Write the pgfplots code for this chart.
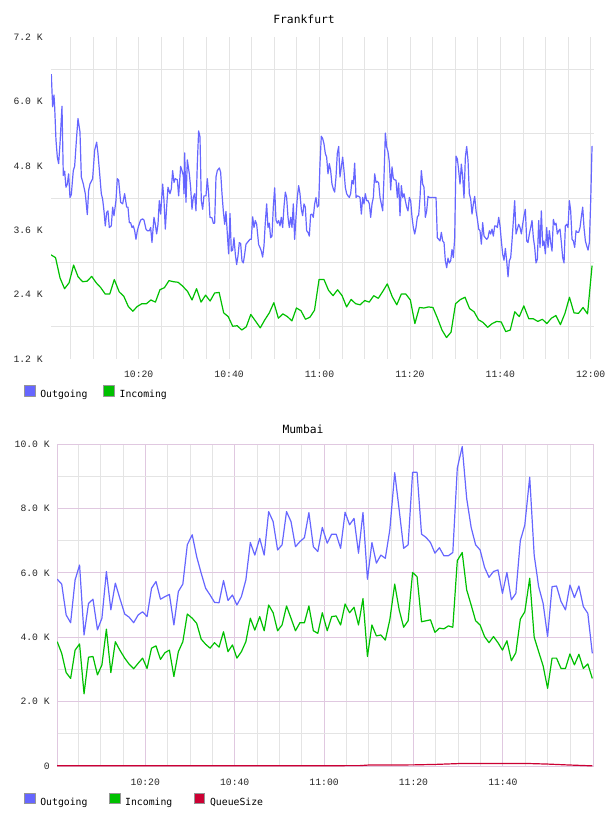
\documentclass[border=0pt]{standalone}
\usepackage{pgfplots}
\pgfplotsset{compat=1.18}
\usepackage{fontspec}
\newfontfamily\monofont{DejaVu Sans Mono}
\newfontfamily\tickfont{Liberation Mono}
\definecolor{outblue}{RGB}{102,102,255}
\definecolor{ingreen}{RGB}{0,192,0}
\definecolor{queuered}{RGB}{204,0,51}
\definecolor{gridgray}{RGB}{228,228,228}
\definecolor{gridpink}{RGB}{224,200,224}
\definecolor{legborder}{RGB}{150,150,150}
\pgfplotsset{
  base/.style={scale only axis, clip=true, tick style={draw=none},
    tick label style={font=\tickfont\fontsize{7.3}{8}\selectfont, text=black!85},
    legend style={draw=none, fill=none, inner sep=0pt, outer sep=0pt, legend columns=-1,
      font=\monofont\fontsize{7.35}{8}\selectfont,
      /tikz/every odd column/.style={column sep=3.5pt}, nodes={inner sep=0pt}},
    legend cell align=left,
    title style={font=\monofont\fontsize{8.5}{10}\selectfont, inner sep=0pt, anchor=base},
    every axis plot/.append style={line width=0.9pt, line join=round, mark=none},
  },
  sq/.style={legend image code/.code={\draw[draw=legborder, fill=#1, line width=0.75pt] (0pt,-0.9pt) rectangle (8pt,7.1pt);}},
}
\begin{document}
\begin{tikzpicture}
\useasboundingbox (0,0) rectangle (456pt,-612pt);
% ---------------- Frankfurt ----------------
\begin{axis}[base, at={(38.25pt,-27.75pt)}, anchor=north west,
  width=407.25pt, height=241.5pt,
  axis line style={draw=none},
  xmin=0.6, xmax=120.73, ymin=1.2, ymax=7.2,
  xtick={20,40,60,80,100,120}, xticklabels={10:20,10:40,11:00,11:20,11:40,12:00},
  minor xtick={5,10,...,120}, xminorgrids,
  ytick={1.2,2.4,3.6,4.8,6.0,7.2}, yticklabels={1.2 K,2.4 K,3.6 K,4.8 K,6.0 K,7.2 K},
  minor ytick={1.8,3.0,4.2,5.4,6.6}, yminorgrids,
  minor grid style={gridgray, line width=0.6pt},
  xticklabel style={anchor=base, yshift=-13.5pt},
  yticklabel style={anchor=east, xshift=-6pt, inner sep=0pt},
  title={Frankfurt}, title style={at={(0.466,1)}, yshift=3.75pt},
  legend style={at={(-0.0497,-0.104)}, anchor=west, /tikz/every even column/.style={column sep=11.85pt}},
]
\addplot[outblue, sq=outblue] coordinates {
(0.67,6.51) (0.96,5.90) (1.26,6.12) (1.41,5.90) (1.70,5.28) (2.00,4.96) (2.29,4.84) (2.59,5.21) (3.03,5.91) (3.32,4.62) (3.62,4.70) (3.91,4.40) (4.21,4.46) (4.50,4.65) (4.80,4.21) (5.09,4.26) (5.53,4.71) (5.83,4.79) (6.27,5.34) (6.57,5.68) (7.01,5.43) (7.31,4.59) (7.75,4.46) (8.19,4.28) (8.63,3.89) (8.93,4.34) (9.22,4.46) (9.81,4.56) (10.26,5.09) (10.70,5.24) (10.99,5.03) (11.43,4.59) (11.73,4.28) (12.02,4.18) (12.32,3.96) (12.61,3.68) (12.91,3.93) (13.20,3.96) (13.50,3.65) (13.94,3.68) (14.24,4.03) (14.53,3.87) (14.97,4.15) (15.27,4.56) (15.57,4.53) (16.01,4.12) (16.45,4.09) (16.89,4.28) (17.34,4.03) (17.63,4.03) (17.93,3.74) (18.22,3.74) (18.52,3.65) (18.81,3.68) (19.11,3.59) (19.40,3.43) (19.70,3.59) (19.99,3.68) (20.43,3.79) (20.87,3.81) (21.17,3.79) (21.61,3.62) (21.91,3.59) (22.35,3.59) (22.65,3.65) (22.94,3.37) (23.38,3.84) (23.68,3.71) (23.97,3.53) (24.27,3.71) (24.56,4.15) (24.86,3.90) (25.30,4.46) (25.60,4.15) (25.89,3.62) (26.18,4.03) (26.48,4.40) (26.92,4.28) (27.22,4.37) (27.51,4.71) (27.81,4.49) (28.10,4.56) (28.54,4.54) (28.84,4.24) (29.28,4.79) (29.58,4.71) (29.87,4.62) (30.02,4.28) (30.17,5.04) (30.46,4.12) (30.76,4.91)
(31.20,4.65) (31.49,4.40) (31.79,3.99) (32.08,4.21) (32.38,4.28) (32.67,3.96) (32.97,4.84) (33.26,5.45) (33.56,5.34) (33.85,4.15) (34.15,3.99) (34.44,4.24) (34.89,4.24) (35.18,4.56) (35.48,4.28) (35.77,3.84) (36.21,3.83) (36.51,3.73) (36.80,3.73) (37.10,4.59) (37.39,4.71) (37.84,4.76) (38.13,4.68) (38.43,4.28) (38.72,3.96) (39.02,3.71) (39.31,3.95) (39.61,3.53) (39.90,3.16) (40.20,3.91) (40.49,3.21) (40.79,3.23) (41.08,3.46) (41.38,3.15) (41.67,2.96) (41.97,3.12) (42.26,3.37) (42.56,3.35) (42.85,3.03) (43.15,2.99) (43.44,3.15) (43.74,3.34) (44.03,3.37) (44.33,3.40) (44.62,3.43) (44.92,3.43) (45.21,3.85) (45.51,3.65) (45.80,3.78) (46.10,3.71) (46.54,3.33) (46.83,3.28) (47.13,3.21) (47.42,3.10) (47.72,3.31) (48.01,3.74) (48.31,4.09) (48.60,3.65) (48.90,3.73) (49.19,3.46) (49.49,3.49) (49.78,4.03) (50.08,4.39) (50.37,3.79) (50.67,3.73) (50.96,3.78) (51.26,3.68) (51.55,3.84) (51.85,3.65) (52.14,4.03) (52.44,4.31) (52.73,4.21) (53.03,3.84) (53.32,3.65) (53.62,3.84) (53.91,3.65) (54.21,4.09) (54.50,3.43) (54.80,3.84) (55.09,4.21) (55.39,4.43) (55.68,4.28) (55.98,3.99) (56.27,3.87) (56.57,4.09) (56.86,4.03) (57.16,3.59) (57.45,3.56) (57.75,3.49) (58.04,3.89) (58.34,3.90) (58.63,3.84) (58.93,4.09) (59.22,4.21) (59.52,4.03) (59.81,4.06) (60.11,4.84) (60.40,5.35) (60.70,5.31) (60.99,5.21)
(61.29,5.03) (61.58,4.96) (61.88,4.65) (62.17,4.84) (62.47,4.71) (62.76,4.46) (63.06,4.37) (63.35,4.31) (63.65,4.59) (63.94,5.03) (64.24,5.16) (64.53,4.59) (64.83,4.78) (65.12,4.96) (65.42,4.71) (65.71,4.40) (66.01,4.28) (66.30,4.24) (66.60,4.21) (66.89,4.28) (67.19,4.53) (67.49,4.46) (67.78,4.85) (68.08,4.21) (68.37,4.24) (68.67,4.23) (68.96,4.21) (69.26,3.90) (69.55,4.21) (69.85,4.09) (70.14,4.28) (70.44,4.15) (70.73,4.15) (71.03,4.09) (71.32,3.84) (71.62,4.09) (71.91,4.21) (72.21,4.65) (72.50,4.49) (72.80,4.51) (73.09,4.48) (73.39,4.21) (73.68,4.09) (73.98,3.96) (74.27,4.59) (74.57,5.41) (74.86,5.15) (75.16,5.06) (75.45,4.87) (75.75,4.35) (76.04,4.78) (76.34,4.56) (76.63,4.54) (76.93,4.53) (77.22,4.21) (77.52,4.48) (77.81,3.87) (78.11,4.43) (78.40,4.21) (78.70,4.28) (78.99,4.15) (79.29,4.03) (79.58,3.96) (79.88,4.21) (80.17,4.15) (80.47,3.84) (80.76,3.65) (81.06,3.53) (81.35,3.65) (81.65,3.85) (81.94,3.88) (82.24,4.21) (82.53,4.71) (82.83,4.46) (83.12,4.40) (83.42,3.84) (83.71,3.96) (84.01,4.23) (84.30,4.21) (85.18,4.21) (85.78,4.21) (86.07,3.46) (86.37,3.43) (86.66,3.40) (86.96,3.56) (87.25,3.40) (87.55,3.37) (87.84,3.03) (88.14,2.90) (88.43,3.08) (88.73,2.99) (89.02,3.03) (89.32,3.24) (89.61,3.09) (89.91,3.46) (90.20,4.98) (90.50,4.93) (90.79,4.71) (91.09,4.46)
(91.38,4.83) (91.68,4.59) (91.97,4.20) (92.27,4.96) (92.56,5.16) (92.86,4.90) (93.15,4.28) (93.45,4.18) (93.74,3.90) (94.04,4.09) (94.33,4.23) (94.63,3.96) (94.92,3.81) (95.22,3.62) (95.51,3.59) (95.81,3.34) (96.10,3.74) (96.40,3.49) (96.69,3.46) (96.99,3.43) (97.28,3.46) (97.58,3.59) (97.87,3.53) (98.17,3.62) (98.46,3.49) (98.76,3.68) (99.05,3.68) (99.35,3.65) (99.64,3.84) (99.94,3.68) (100.23,3.40) (100.53,3.15) (100.82,3.04) (101.12,3.26) (101.41,3.03) (101.71,2.73) (102.00,3.03) (102.30,3.09) (102.59,3.40) (102.89,3.78) (103.18,4.15) (103.48,3.53) (103.77,3.62) (104.07,3.71) (104.36,3.65) (104.66,3.53) (104.95,3.71) (105.25,3.87) (105.54,3.99) (105.84,3.40) (106.13,3.37) (106.43,3.53) (106.72,3.65) (107.02,3.78) (107.31,3.46) (107.61,3.28) (107.90,2.99) (108.20,3.06) (108.49,3.78) (108.79,3.28) (109.08,3.96) (109.38,3.31) (109.67,3.40) (109.97,3.16) (110.26,3.65) (110.56,3.28) (110.85,3.59) (111.15,3.37) (111.44,3.21) (111.74,3.80) (112.03,3.70) (112.33,3.73) (112.62,3.53) (112.92,3.59) (113.21,3.62) (113.51,3.37) (113.80,3.09) (114.10,2.99) (114.39,3.68) (114.69,3.71) (114.98,3.65) (115.28,4.15) (115.57,3.96) (115.87,3.43) (116.16,3.40) (116.46,3.28) (116.75,3.59) (117.05,3.56) (117.34,3.56) (117.64,3.65) (117.93,3.85) (118.23,4.03) (118.52,3.65) (118.82,3.40) (119.11,3.31) (119.41,3.23) (119.70,3.37) (120.00,4.15) (120.29,5.16) (120.40,5.16)
};
\addlegendentry{Outgoing}
\addplot[ingreen, sq=ingreen] coordinates {
(0.6,3.14) (1.6,3.09) (2.6,2.71) (3.6,2.51) (4.6,2.62) (5.6,2.95) (6.6,2.73) (7.6,2.64) (8.6,2.65) (9.6,2.74) (10.6,2.62) (11.6,2.53) (12.6,2.41) (13.6,2.41) (14.6,2.68)
(15.7,2.45) (16.7,2.37) (17.7,2.18) (18.7,2.09) (19.7,2.18) (20.7,2.23) (21.7,2.23) (22.7,2.30) (23.7,2.26) (24.7,2.49) (25.7,2.53) (26.7,2.66) (27.7,2.64) (28.7,2.63) (29.7,2.56)
(30.8,2.46) (31.8,2.30) (32.8,2.51) (33.8,2.26) (34.8,2.39) (35.8,2.28) (36.8,2.43) (37.8,2.44) (38.8,2.06) (39.8,1.99) (40.8,1.81) (41.8,1.82) (42.8,1.74) (43.8,1.80) (44.8,2.03)
(45.9,1.90) (46.9,1.78) (47.9,1.93) (48.9,2.06) (49.9,2.25) (50.9,1.96) (51.9,2.04) (52.9,1.99) (53.9,1.91) (54.9,2.15) (55.9,2.10) (56.9,1.94) (57.9,1.98) (58.9,2.11) (59.9,2.68)
(61.0,2.68) (62.0,2.48) (63.0,2.38) (64.0,2.49) (65.0,2.38) (66.0,2.17) (67.0,2.31) (68.0,2.23) (69.0,2.21) (70.0,2.29) (71.0,2.26) (72.0,2.38) (73.0,2.33) (74.0,2.46) (75.0,2.60)
(76.1,2.36) (77.1,2.21) (78.1,2.41) (79.1,2.41) (80.1,2.30) (81.1,1.86) (82.1,2.16) (83.1,2.15) (84.1,2.17) (85.1,2.16) (86.1,1.96) (87.1,1.74) (88.1,1.60) (89.1,1.70) (90.1,2.23)
(91.2,2.31) (92.2,2.35) (93.2,2.14) (94.2,2.08) (95.2,1.93) (96.2,1.88) (97.2,1.79) (98.2,1.86) (99.2,1.90) (100.2,1.89) (101.2,1.71) (102.2,1.74) (103.2,2.08) (104.2,1.99) (105.2,2.19)
(106.3,1.95) (107.3,1.95) (108.3,1.90) (109.3,1.94) (110.3,1.86) (111.3,1.96) (112.3,2.01) (113.3,1.84) (114.3,2.05) (115.3,2.35) (116.3,2.06) (117.3,2.05) (118.3,2.16) (119.3,2.04) (120.3,2.94)
};
\addlegendentry{Incoming}
\end{axis}
% ---------------- Mumbai ----------------
\begin{axis}[base, at={(42.75pt,-333pt)}, anchor=north west,
  width=402pt, height=241.5pt,
  axis line style={draw=gridpink, line width=0.6pt},
  xmin=0.25, xmax=120.16, ymin=0, ymax=10,
  xtick={20,40,60,80,100}, xticklabels={10:20,10:40,11:00,11:20,11:40},
  minor xtick={5,10,15,25,30,35,45,50,55,65,70,75,85,90,95,105,110,115},
  xmajorgrids, xminorgrids,
  ytick={0,2,4,6,8,10}, yticklabels={0,2.0 K,4.0 K,6.0 K,8.0 K,10.0 K},
  minor ytick={1,3,5,7,9}, ymajorgrids, yminorgrids,
  major grid style={gridpink, line width=0.6pt},
  minor grid style={gridgray, line width=0.6pt},
  xticklabel style={anchor=base, yshift=-14.6pt},
  yticklabel style={anchor=east, xshift=-5.25pt, inner sep=0pt},
  title={Mumbai}, title style={at={(0.459,1)}, yshift=2.25pt},
  legend style={at={(-0.0616,-0.1056)}, anchor=west, /tikz/every even column/.style={column sep=16pt}},
]
\addplot[outblue, sq=outblue] coordinates {
(0.3,5.80) (1.3,5.65) (2.3,4.69) (3.3,4.45) (4.3,5.78) (5.3,6.24) (6.3,4.07) (7.3,5.05) (8.3,5.18) (9.3,4.23) (10.3,4.59) (11.3,6.04) (12.3,4.85) (13.3,5.68) (14.3,5.21)
(15.4,4.72) (16.4,4.62) (17.4,4.45) (18.4,4.69) (19.4,4.79) (20.4,4.64) (21.4,5.52) (22.4,5.73) (23.4,5.18) (24.4,5.26) (25.4,5.33) (26.4,4.38) (27.4,5.42) (28.4,5.65) (29.4,6.87)
(30.5,7.18) (31.5,6.50) (32.5,5.99) (33.5,5.52) (34.5,5.31) (35.5,5.08) (36.5,5.07) (37.5,5.76) (38.5,5.14) (39.5,5.31) (40.5,5.00) (41.5,5.26) (42.5,5.78) (43.5,6.94) (44.5,6.55)
(45.6,7.07) (46.6,6.55) (47.6,7.90) (48.6,7.59) (49.6,6.71) (50.6,6.87) (51.6,7.90) (52.6,7.59) (53.6,6.81) (54.6,6.97) (55.6,7.09) (56.6,7.87) (57.6,6.81) (58.6,6.66) (59.6,7.41)
(60.7,6.92) (61.7,7.20) (62.7,7.20) (63.7,6.76) (64.7,7.88) (65.7,7.49) (66.7,7.69) (67.7,6.61) (68.7,7.87) (69.7,5.80) (70.7,6.94) (71.7,6.30) (72.7,6.55) (73.7,6.45) (74.7,7.33)
(75.8,9.11) (76.8,7.95) (77.8,6.76) (78.8,6.87) (79.8,9.12) (80.8,9.12) (81.8,7.20) (82.8,7.10) (83.8,6.94) (84.8,6.61) (85.8,6.78) (86.8,6.53) (87.8,6.53) (88.8,6.63) (89.8,9.25)
(90.9,9.92) (91.9,8.31) (92.9,7.41) (93.9,6.87) (94.9,6.71) (95.9,6.17) (96.9,5.86) (97.9,6.04) (98.9,6.09) (99.9,5.36) (100.9,6.01) (101.9,5.16) (102.9,5.36) (103.9,7.00) (104.9,7.48)
(106.0,8.97) (107.0,6.55) (108.0,5.57) (109.0,5.05) (110.0,4.02) (111.0,5.57) (112.0,5.59) (113.0,5.11) (114.0,4.85) (115.0,5.62) (116.0,5.23) (117.0,5.59) (118.0,4.95) (119.0,4.74) (120.0,3.50)
};
\addlegendentry{Outgoing}
\addplot[ingreen, sq=ingreen] coordinates {
(0.3,3.86) (1.3,3.50) (2.3,2.90) (3.3,2.72) (4.3,3.60) (5.3,3.79) (6.3,2.24) (7.3,3.38) (8.3,3.40) (9.3,2.83) (10.3,3.14) (11.3,4.25) (12.3,2.90) (13.3,3.86) (14.3,3.60)
(15.4,3.35) (16.4,3.16) (17.4,3.02) (18.4,3.19) (19.4,3.35) (20.4,3.03) (21.4,3.66) (22.4,3.73) (23.4,3.31) (24.4,3.52) (25.4,3.60) (26.4,2.78) (27.4,3.55) (28.4,3.86) (29.4,4.72)
(30.5,4.59) (31.5,4.43) (32.5,3.94) (33.5,3.78) (34.5,3.66) (35.5,3.83) (36.5,3.69) (37.5,4.17) (38.5,3.55) (39.5,3.76) (40.5,3.35) (41.5,3.55) (42.5,3.86) (43.5,4.59) (44.5,4.22)
(45.6,4.64) (46.6,4.20) (47.6,5.00) (48.6,4.76) (49.6,4.20) (50.6,4.38) (51.6,4.97) (52.6,4.59) (53.6,4.20) (54.6,4.45) (55.6,4.45) (56.6,4.97) (57.6,4.20) (58.6,4.12) (59.6,4.76)
(60.7,4.20) (61.7,4.64) (62.7,4.66) (63.7,4.38) (64.7,5.03) (65.7,4.76) (66.7,4.93) (67.7,4.38) (68.7,5.20) (69.7,3.40) (70.7,4.38) (71.7,4.04) (72.7,4.07) (73.7,3.91) (74.7,4.54)
(75.8,5.65) (76.8,4.85) (77.8,4.31) (78.8,4.51) (79.8,6.01) (80.8,5.88) (81.8,4.48) (82.8,4.51) (83.8,4.54) (84.8,4.15) (85.8,4.28) (86.8,4.26) (87.8,4.35) (88.8,4.31) (89.8,6.38)
(90.9,6.63) (91.9,5.47) (92.9,5.00) (93.9,4.51) (94.9,4.38) (95.9,4.02) (96.9,3.83) (97.9,4.02) (98.9,3.83) (99.9,3.60) (100.9,3.89) (101.9,3.27) (102.9,3.52) (103.9,4.56) (104.9,4.79)
(106.0,5.83) (107.0,4.00) (108.0,3.55) (109.0,3.11) (110.0,2.41) (111.0,3.35) (112.0,3.35) (113.0,3.03) (114.0,3.03) (115.0,3.48) (116.0,3.14) (117.0,3.47) (118.0,3.03) (119.0,3.17) (120.0,2.72)
};
\addlegendentry{Incoming}
\addplot[queuered, sq=queuered] coordinates {
(0.3,0.005) (20,0.005) (40,0.006) (60,0.01) (68,0.012) (70,0.03) (80,0.035) (85,0.05) (90,0.075) (100,0.08) (105,0.08) (110,0.06) (115,0.03) (120,0.005)
};
\addlegendentry{QueueSize}
\end{axis}
\end{tikzpicture}
\end{document}
